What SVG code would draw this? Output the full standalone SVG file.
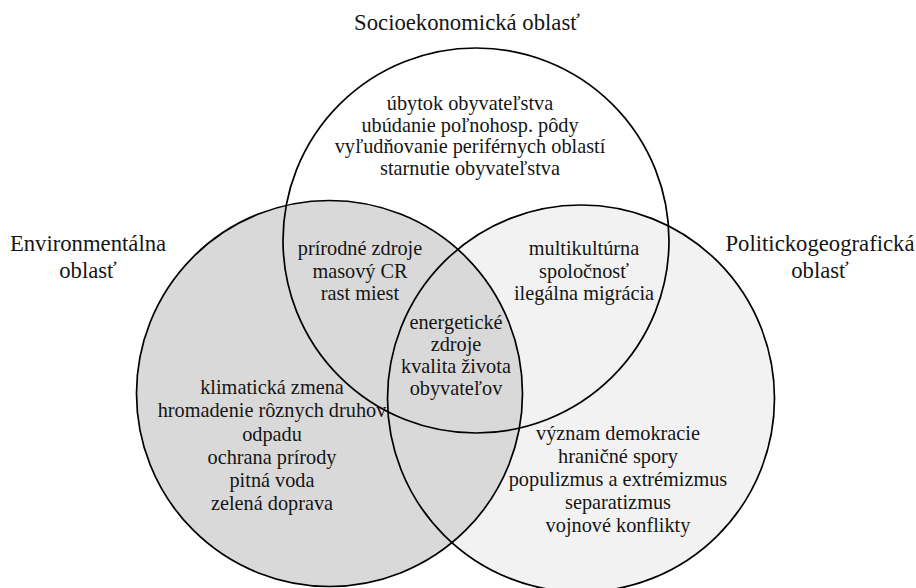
<svg xmlns="http://www.w3.org/2000/svg" width="916" height="588" viewBox="0 0 916 588">
<style>
text{font-family:'Liberation Serif','Times New Roman',serif;font-size:20.3px;fill:#151515;text-anchor:middle}
text.lbl{font-size:22.7px}
.ring{fill:none;stroke:#000;stroke-width:1.7}
</style>
<rect width="916" height="588" fill="#fff"/>
<g id="fills">
<circle cx="581" cy="398.5" r="193.5" fill="#f2f2f2"/>
<circle cx="329.5" cy="393.5" r="193" fill="#d9d9d9"/>
</g>
<g id="socio">
<ellipse class="ring" cx="476" cy="240.5" rx="193" ry="192.5"/>
<text class="lbl" x="467" y="30">Socioekonomická oblasť</text>
<text x="470" y="110">úbytok obyvateľstva</text>
<text x="470" y="131.5">ubúdanie poľnohosp. pôdy</text>
<text x="470" y="153">vyľudňovanie periférnych oblastí</text>
<text x="470" y="175">starnutie obyvateľstva</text>
</g>
<g id="env">
<circle class="ring" cx="329.5" cy="393.5" r="193"/>
<text class="lbl" x="88" y="251">Environmentálna</text>
<text class="lbl" x="88" y="278">oblasť</text>
<text x="272" y="394">klimatická zmena</text>
<text x="272" y="417">hromadenie rôznych druhov</text>
<text x="272" y="440.5">odpadu</text>
<text x="272" y="463.5">ochrana prírody</text>
<text x="272" y="487">pitná voda</text>
<text x="272" y="510">zelená doprava</text>
</g>
<g id="pol">
<circle class="ring" cx="581" cy="398.5" r="193.5"/>
<text class="lbl" x="820" y="251">Politickogeografická</text>
<text class="lbl" x="820" y="278">oblasť</text>
<text x="618" y="440">význam demokracie</text>
<text x="618" y="463">hraničné spory</text>
<text x="618" y="486">populizmus a extrémizmus</text>
<text x="618" y="509">separatizmus</text>
<text x="618" y="532">vojnové konflikty</text>
</g>
<g id="socio-env">
<text x="360" y="255">prírodné zdroje</text>
<text x="360" y="277.5">masový CR</text>
<text x="360" y="300">rast miest</text>
</g>
<g id="socio-pol">
<text x="584" y="255">multikultúrna</text>
<text x="584" y="277.5">spoločnosť</text>
<text x="584" y="300">ilegálna migrácia</text>
</g>
<g id="all-three">
<text x="456" y="329">energetické</text>
<text x="456" y="351">zdroje</text>
<text x="456" y="373">kvalita života</text>
<text x="456" y="395">obyvateľov</text>
</g>
<g id="connectors"/>
</svg>
